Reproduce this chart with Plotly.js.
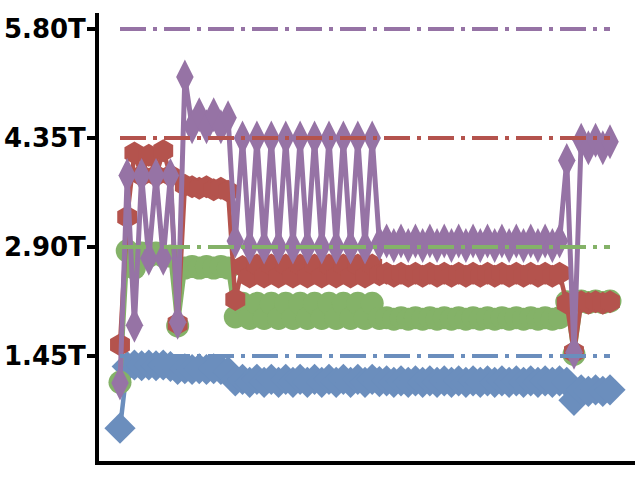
<!DOCTYPE html>
<html>
<head>
<meta charset="utf-8">
<script src="https://cdn.plot.ly/plotly-3.0.1.min.js"></script>
<style>html,body{margin:0;padding:0;background:#fff;}#chart{width:640px;height:480px;}</style>
</head>
<body>
<div id="chart"></div>
<script>
// values in trillions (T)
const blue = [0.49,1.31,1.33,1.32,1.33,1.32,1.33,1.31,1.27,1.28,1.27,1.28,1.27,1.28,1.27,1.24,1.12,
  1.14,1.10,1.14,1.10,1.14,1.10,1.14,1.10,1.14,1.10,1.14,1.10,1.14,1.10,1.14,1.10,1.14,1.10,1.14,
  1.11,1.12,1.10,1.12,1.10,1.12,1.10,1.12,1.10,1.12,1.10,1.12,1.10,1.12,1.10,1.12,1.10,1.12,1.10,1.12,1.10,1.12,1.10,1.12,1.10,1.12,
  1.10,0.86,1.00,0.98,1.00,0.98,1.00];
const green = [1.10,2.85,2.62,2.82,2.78,2.82,2.78,2.78,1.85,2.62,2.64,2.62,2.64,2.62,2.64,2.62,1.97,
  2.15,1.95,2.15,1.95,2.15,1.95,2.15,1.95,2.15,1.95,2.15,1.95,2.15,1.95,2.15,1.95,2.15,1.95,2.15,
  1.95,1.96,1.94,1.96,1.94,1.96,1.94,1.96,1.94,1.96,1.94,1.96,1.94,1.96,1.94,1.96,1.94,1.96,1.94,1.96,1.94,1.96,1.94,1.96,1.94,1.96,
  2.17,1.47,2.18,2.16,2.18,2.16,2.18];
const red = [1.60,3.30,4.15,3.85,4.12,3.85,4.18,3.85,1.88,3.72,3.70,3.68,3.70,3.66,3.68,3.64,2.20,
  2.64,2.50,2.66,2.50,2.66,2.50,2.66,2.50,2.66,2.50,2.66,2.50,2.66,2.50,2.66,2.50,2.66,2.50,2.66,
  2.53,2.55,2.51,2.55,2.51,2.55,2.51,2.55,2.51,2.55,2.51,2.55,2.51,2.55,2.51,2.55,2.51,2.55,2.51,2.55,2.51,2.55,2.51,2.55,2.51,2.55,
  2.15,1.50,2.17,2.15,2.17,2.15,2.17];
const purple = [1.09,3.85,1.86,3.85,2.75,3.85,2.75,3.85,1.90,5.16,4.50,4.66,4.50,4.66,4.50,4.62,2.98,
  4.35,2.90,4.35,2.90,4.35,2.90,4.35,2.90,4.35,2.90,4.35,2.90,4.35,2.90,4.35,2.90,4.35,2.90,4.35,
  2.95,2.98,2.92,2.98,2.92,2.98,2.92,2.98,2.92,2.98,2.92,2.98,2.92,2.98,2.92,2.98,2.92,2.98,2.92,2.98,2.92,2.98,2.92,2.98,2.92,2.98,
  4.05,1.50,4.32,4.22,4.32,4.22,4.30];
const refLevels = [1.45, 2.90, 4.35, 5.80];
const tickVals = [1.45, 2.90, 4.35, 5.80];
const tickLabels = ['1.45T', '2.90T', '4.35T', '5.80T'];

const colors = ['#6b8ebd', '#84b268', '#b4534d', '#9673a5'];
const symbols = ['diamond', 'circle', 'hexagon', 'diamond-tall'];
const sizes = [24, 23, 23, 25];
const lineWidths = [4.5, 4.5, 4.5, 5];
const seriesList = [blue, green, red, purple];
const xIdx = purple.map((_, i) => i);

const traces = [];
seriesList.forEach((s, k) => {
  traces.push({
    x: xIdx, y: s, type: 'scatter', mode: 'lines+markers',
    line: {color: colors[k], width: lineWidths[k]},
    marker: {color: colors[k], symbol: symbols[k], size: sizes[k], line: {width: 0}},
    showlegend: false, hoverinfo: 'skip'
  });
});
refLevels.forEach((lv, k) => {
  traces.push({
    x: [xIdx[0], xIdx[xIdx.length - 1]], y: [lv, lv], type: 'scatter', mode: 'lines',
    line: {color: colors[k], width: 4, dash: '26px,7px,4px,7px'},
    showlegend: false, hoverinfo: 'skip'
  });
});

const layout = {
  width: 640, height: 480,
  margin: {l: 99, r: 5, t: 13, b: 19},
  paper_bgcolor: '#ffffff', plot_bgcolor: '#ffffff',
  xaxis: {range: [-2.914, 71.47], showgrid: false, zeroline: false, showticklabels: false,
    ticks: '', showline: true, linecolor: '#000', linewidth: 4},
  yaxis: {range: [0.053, 6.013], showgrid: false, zeroline: false,
    tickvals: tickVals, ticktext: tickLabels, ticks: 'outside', ticklen: 8, tickwidth: 3.5,
    ticklabelstandoff: -4,
    tickcolor: '#000', showline: true, linecolor: '#000', linewidth: 4,
    tickfont: {family: 'DejaVu Sans', size: 26, color: '#000', weight: 'bold'}},
  showlegend: false
};
Plotly.newPlot('chart', traces, layout, {displayModeBar: false, staticPlot: true});
</script>
</body>
</html>
